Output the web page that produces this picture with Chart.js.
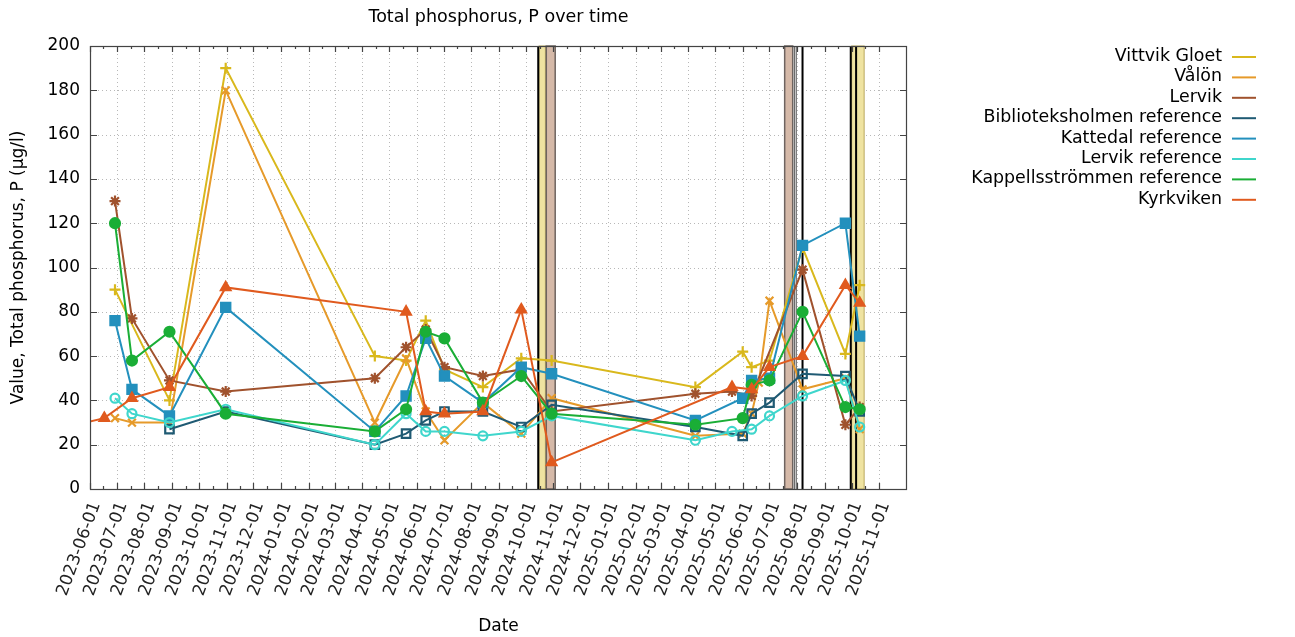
<!DOCTYPE html>
<html>
<head>
<meta charset="utf-8">
<title>Total phosphorus, P over time</title>
<script src="https://cdn.jsdelivr.net/npm/chart.js@4.4.1/dist/chart.umd.min.js"></script>
<style>
  html, body { margin: 0; padding: 0; background: #ffffff; }
</style>
</head>
<body>
<canvas id="phosphorusChart" width="1295" height="637"></canvas>
<script>
// Sampling dates shared by all stations (null = station not sampled that day)
const sampleDates = [
    '2023-05-16', '2023-06-17', '2023-06-29', '2023-07-18', '2023-08-29', '2023-10-31',
    '2024-04-15', '2024-05-20', '2024-06-11', '2024-07-02', '2024-08-14', '2024-09-26',
    '2024-10-30', '2025-04-09', '2025-05-20', '2025-06-01', '2025-06-11', '2025-06-19',
    '2025-07-01', '2025-08-07', '2025-09-24', '2025-10-10'
];

const vittvikGloet     = [null, null,  90, null,  40, 190,  60,  58,  76,  54,  46,  59,  58,  46, null,  62,  55, null,  58, 109,  61,  92];
const valon            = [null, null,  32,  30,  30, 180,  30,  59,  35,  22,  39,  25,  41,  24, null,  25,  34,  48,  85,  45,  50,  27];
const lervik           = [null, null, 130,  77,  49,  44,  50,  64,  72,  55,  51,  54,  35,  43,  44, null,  42, null, null,  99,  29,  37];
const biblioteksholmen = [null, null, null, null, 27,  35,  20,  25,  31,  35,  35,  28,  38,  28, null,  24,  34, null,  39,  52,  51,  35];
const kattedal         = [null, null,  76,  45,  33,  82,  26,  42,  68,  51,  39,  55,  52,  31, null,  41,  49, null,  50, 110, 120,  69];
const lervikRef        = [null, null,  41,  34,  30,  36,  20,  34,  26,  26,  24,  26,  33,  22,  26, null,  27, null,  33,  42,  49,  28];
const kappellsstrommen = [null, null, 120,  58,  71,  34,  26,  36,  71,  68,  39,  51,  34,  29, null,  32,  47, null,  49,  80,  37,  36];
const kyrkviken        = [  29,   32, null, 41,  46,  91, null,  80,  35,  34,  35,  81,  12, null,  46, null,  45, null,  55,  60,  92,  84];

// Shaded event periods and single-day event lines
const eventBandStart = ['2024-10-16', '2024-10-24', '2025-07-18', '2025-10-01'];
const eventBandEnd   = ['2024-10-23', '2024-11-03', '2025-07-27', '2025-10-15'];
const eventBandType  = ['khaki', 'tan', 'tan', 'khaki'];
const eventLineDates = ['2024-10-15', '2025-07-29', '2025-07-31', '2025-08-07', '2025-09-30', '2025-10-06'];
const eventLineType  = ['black', 'grey', 'grey', 'black', 'black', 'black'];

// x axis
const xRange = ['2023-06-01', '2025-12-02'];
const monthTicks = [
    '2023-06-01', '2023-07-01', '2023-08-01', '2023-09-01', '2023-10-01', '2023-11-01',
    '2023-12-01', '2024-01-01', '2024-02-01', '2024-03-01', '2024-04-01', '2024-05-01',
    '2024-06-01', '2024-07-01', '2024-08-01', '2024-09-01', '2024-10-01', '2024-11-01',
    '2024-12-01', '2025-01-01', '2025-02-01', '2025-03-01', '2025-04-01', '2025-05-01',
    '2025-06-01', '2025-07-01', '2025-08-01', '2025-09-01', '2025-10-01', '2025-11-01'
];

const toTime = (s) => Date.parse(s + 'T00:00:00Z');

Chart.defaults.font.family = "'DejaVu Sans', sans-serif";
Chart.defaults.font.size = 17;
Chart.defaults.color = '#000000';

const seriesDefs = [
    { label: 'Vittvik Gloet', values: vittvikGloet, color: '#d9b81c', style: 'cross', radius: 5.5, fill: false },
    { label: 'Vålön', values: valon, color: '#e69a2a', style: 'crossRot', radius: 5.5, fill: false },
    { label: 'Lervik', values: lervik, color: '#a0522d', style: 'star', radius: 5.5, fill: false },
    { label: 'Biblioteksholmen reference', values: biblioteksholmen, color: '#1f5a73', style: 'rect', radius: 6, fill: false },
    { label: 'Kattedal reference', values: kattedal, color: '#2390bd', style: 'rect', radius: 6.5, fill: true },
    { label: 'Lervik reference', values: lervikRef, color: '#3fd6cc', style: 'circle', radius: 4.5, fill: false },
    { label: 'Kappellsströmmen reference', values: kappellsstrommen, color: '#1aae36', style: 'circle', radius: 5, fill: true },
    { label: 'Kyrkviken', values: kyrkviken, color: '#e05a1e', style: 'triangle', radius: 5.5, fill: true },
];

const datasets = seriesDefs.map((s, i) => ({
    label: s.label,
    data: sampleDates
        .map((d, j) => ({ x: toTime(d), y: s.values[j] }))
        .filter(p => p.y !== null),
    borderColor: s.color,
    backgroundColor: s.color,
    borderWidth: 2,
    tension: 0,
    pointStyle: s.style,
    pointRadius: s.radius,
    pointBorderWidth: 2.2,
    pointBackgroundColor: s.fill ? s.color : 'rgba(255,255,255,0)',
    pointBorderColor: s.color,
    order: seriesDefs.length - i, // later series on top, like gnuplot
}));

const bandStyle = {
    khaki: { fill: '#efe3a1', edge: '#b9a95e', width: 1 },
    tan: { fill: '#d5b9a8', edge: '#6e6460', width: 1.5 },
};
const lineStyle = {
    black: { color: '#000000', width: 2 },
    grey: { color: '#6a6a6a', width: 1.2 },
};

// gnuplot-like frame: dotted grid, event bands, inward ticks on all sides, key
const gnuplotFrame = {
    id: 'gnuplotFrame',
    beforeDatasetsDraw(chart) {
        const { ctx, chartArea: a, scales: { x, y } } = chart;
        ctx.save();

        // dotted grid
        ctx.strokeStyle = '#b8b8b8';
        ctx.lineWidth = 1;
        ctx.setLineDash([1, 3]);
        x.ticks.forEach(t => {
            const px = Math.round(x.getPixelForValue(t.value)) + 0.5;
            ctx.beginPath(); ctx.moveTo(px, a.top); ctx.lineTo(px, a.bottom); ctx.stroke();
        });
        y.ticks.forEach(t => {
            const py = Math.round(y.getPixelForValue(t.value)) + 0.5;
            ctx.beginPath(); ctx.moveTo(a.left, py); ctx.lineTo(a.right, py); ctx.stroke();
        });
        ctx.setLineDash([]);

        // event bands
        eventBandStart.forEach((s, i) => {
            const st = bandStyle[eventBandType[i]];
            const x1 = x.getPixelForValue(toTime(s));
            const x2 = x.getPixelForValue(toTime(eventBandEnd[i]));
            ctx.fillStyle = st.fill;
            ctx.fillRect(x1, a.top, x2 - x1, a.bottom - a.top);
            ctx.strokeStyle = st.edge;
            ctx.lineWidth = st.width;
            ctx.strokeRect(x1, a.top, x2 - x1, a.bottom - a.top);
        });
        eventLineDates.forEach((d, i) => {
            const st = lineStyle[eventLineType[i]];
            const px = x.getPixelForValue(toTime(d));
            ctx.strokeStyle = st.color;
            ctx.lineWidth = st.width;
            ctx.beginPath(); ctx.moveTo(px, a.top); ctx.lineTo(px, a.bottom); ctx.stroke();
        });
        ctx.restore();
    },
    afterDraw(chart) {
        const { ctx, chartArea: a, scales: { x, y } } = chart;
        ctx.save();

        // frame
        ctx.strokeStyle = '#444444';
        ctx.lineWidth = 1.2;
        ctx.strokeRect(a.left + 0.5, a.top + 0.5, a.right - a.left - 1, a.bottom - a.top);

        // inward ticks
        ctx.beginPath();
        const xs = x.ticks.map(t => x.getPixelForValue(t.value));
        xs.forEach((px, i) => {
            const p = Math.round(px) + 0.5;
            ctx.moveTo(p, a.bottom); ctx.lineTo(p, a.bottom - 6);
            ctx.moveTo(p, a.top); ctx.lineTo(p, a.top + 6);
            if (i < xs.length - 1) {
                const m = Math.round((px + xs[i + 1]) / 2) + 0.5;
                ctx.moveTo(m, a.bottom); ctx.lineTo(m, a.bottom - 3);
                ctx.moveTo(m, a.top); ctx.lineTo(m, a.top + 3);
            }
        });
        y.ticks.forEach(t => {
            const p = Math.round(y.getPixelForValue(t.value)) + 0.5;
            ctx.moveTo(a.left, p); ctx.lineTo(a.left + 7, p);
            ctx.moveTo(a.right, p); ctx.lineTo(a.right - 7, p);
        });
        ctx.stroke();

        // key (text right-aligned, sample line to the right)
        const textRight = a.right + 315;
        const rowTop = a.top + 10.5;
        const rowStep = 20.4;
        ctx.font = "17.4px 'DejaVu Sans', sans-serif";
        ctx.textAlign = 'right';
        ctx.textBaseline = 'middle';
        seriesDefs.forEach((s, i) => {
            const ry = rowTop + i * rowStep;
            ctx.fillStyle = '#000000';
            ctx.fillText(s.label, textRight, ry);
            ctx.strokeStyle = s.color;
            ctx.lineWidth = 2;
            ctx.beginPath();
            ctx.moveTo(textRight + 10, ry + 0.5);
            ctx.lineTo(textRight + 34, ry + 0.5);
            ctx.stroke();
        });
        ctx.restore();
    }
};

new Chart(document.getElementById('phosphorusChart'), {
    type: 'line',
    data: { datasets: datasets },
    options: {
        responsive: false,
        animation: false,
        layout: { padding: { left: 0, right: 388, top: 0, bottom: 0 } },
        plugins: {
            legend: { display: false },
            tooltip: { enabled: false },
            title: {
                display: true,
                fullSize: false,
                text: 'Total phosphorus, P over time',
                color: '#000000',
                font: { size: 17.5, weight: 'normal' },
                padding: { top: 7, bottom: 18 },
            },
        },
        scales: {
            x: {
                type: 'linear',
                min: toTime(xRange[0]),
                max: toTime(xRange[1]),
                grid: { display: false, drawTicks: false },
                border: { display: false },
                afterBuildTicks: (scale) => {
                    scale.ticks = monthTicks.map(d => ({ value: toTime(d) }));
                },
                afterFit: (scale) => { scale.height = 148; },
                ticks: {
                    autoSkip: false,
                    minRotation: 70,
                    maxRotation: 70,
                    padding: 10,
                    labelOffset: 6,
                    color: '#222222',
                    callback: (v) => new Date(v).toISOString().slice(0, 10),
                },
                title: {
                    display: true,
                    text: 'Date',
                    padding: { top: 0, bottom: 0 },
                },
            },
            y: {
                min: 0,
                max: 200,
                ticks: { stepSize: 20, padding: 10 },
                grid: { display: false, drawTicks: false },
                border: { display: false },
                afterFit: (scale) => { scale.width = 90; },
                title: {
                    display: true,
                    text: 'Value, Total phosphorus, P (µg/l)',
                    padding: { top: 8, bottom: 0 },
                },
            },
        },
    },
    plugins: [gnuplotFrame],
});
</script>
</body>
</html>
